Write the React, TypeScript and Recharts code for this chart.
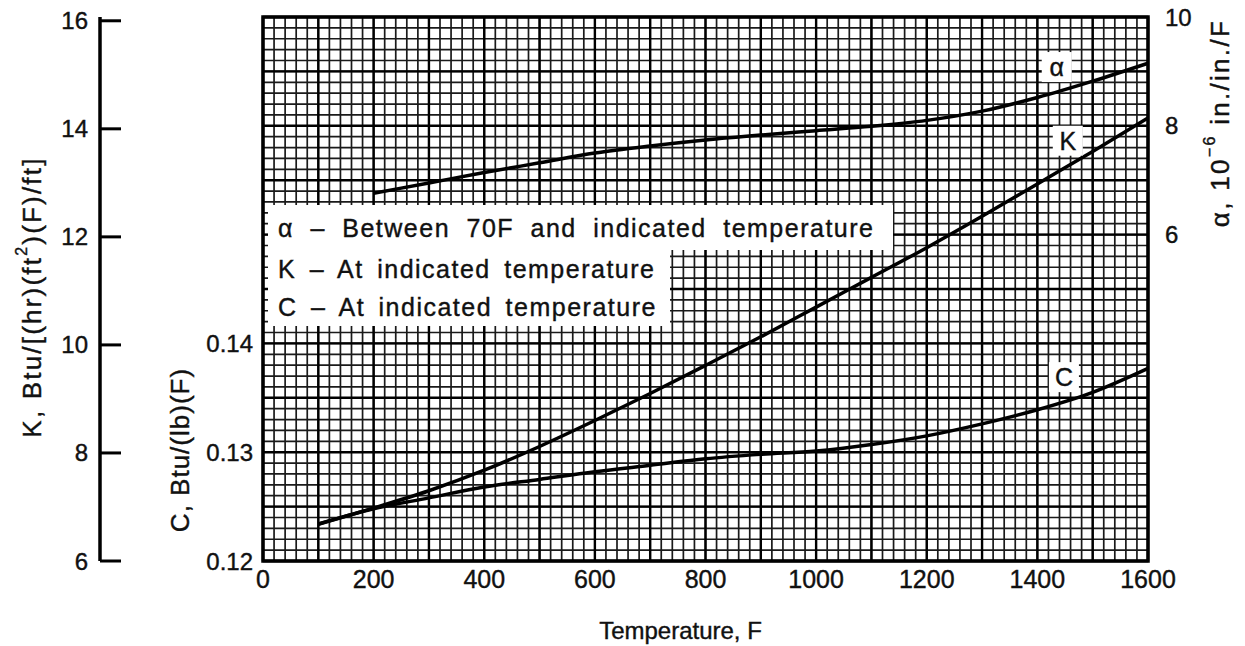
import React from "react";
import {
  LineChart,
  Line,
  XAxis,
  YAxis,
  CartesianGrid,
  ReferenceArea,
  ReferenceDot,
  Label,
  Legend,
} from "recharts";

// readings, every 100 F
const temps = [100, 200, 300, 400, 500, 600, 700, 800, 900, 1000, 1100, 1200, 1300, 1400, 1500, 1600];
const kValues = [6.68, 6.98, 7.3, 7.68, 8.12, 8.6, 9.1, 9.62, 10.15, 10.7, 11.25, 11.8, 12.38, 12.98, 13.58, 14.2];
const cValues = [0.1234, 0.1248, 0.1258, 0.1268, 0.1275, 0.1282, 0.1288, 0.1294, 0.1298, 0.1301, 0.1307, 0.1315, 0.1326, 0.1339, 0.1355, 0.1377];
const alphaTemps = [200, 300, 400, 500, 600, 700, 800, 900, 1000, 1100, 1200, 1300, 1400, 1500, 1600];
const alphaValues = [6.76, 6.95, 7.14, 7.32, 7.5, 7.63, 7.74, 7.83, 7.91, 7.99, 8.1, 8.27, 8.52, 8.82, 9.15];

const tempTicks = [0, 200, 400, 600, 800, 1000, 1200, 1400, 1600];
const kTicks = [6, 8, 10, 12, 14, 16];
const cTicks = [0.12, 0.13, 0.14];
const alphaTicks = [6, 8, 10];

// graph paper rulings
const minorTemps = Array.from({ length: 81 }, (_, i) => i * 20);
const majorTemps = Array.from({ length: 17 }, (_, i) => i * 100);
const minorC = Array.from({ length: 51 }, (_, i) => (120 + i) / 1000);
const majorC = Array.from({ length: 11 }, (_, i) => (120 + i * 5) / 1000);

const legendRows = [
  { sym: "α", text: "Between 70F and indicated temperature" },
  { sym: "K", text: "At indicated temperature" },
  { sym: "C", text: "At indicated temperature" },
];

const rows = temps.map((t, i) => {
  const ai = alphaTemps.indexOf(t);
  return { t, k: kValues[i], c: cValues[i], a: ai >= 0 ? alphaValues[ai] : null };
});

const INK = "#111";
const inkText = { fill: INK, stroke: INK, strokeWidth: 0.4 };

const KTick = ({ x, y, payload }: any) => (
  <g>
    <line x1={x + 12} x2={x + 33} y1={y} y2={y} stroke="#000" strokeWidth={3} />
    <text x={x} y={y} textAnchor="end" dominantBaseline="central" fontSize={24} {...inkText}>
      {payload.value}
    </text>
  </g>
);

const CurveTag = ({ viewBox, text }: any) => {
  const { x, y } = viewBox;
  return (
    <g>
      <rect x={x - 15} y={y - 15} width={30} height={30} fill="#fff" />
      <text x={x} y={y} textAnchor="middle" dominantBaseline="central" fontSize={25} {...inkText}>
        {text}
      </text>
    </g>
  );
};

const LegendBox = () => (
  <div style={{ fontSize: 25, color: INK, letterSpacing: 1.5, WebkitTextStroke: "0.4px #111" }}>
    {legendRows.map((r, i) => (
      <div
        key={r.sym}
        style={{
          background: "#fff",
          width: i === 0 ? 625 : 402,
          boxSizing: "border-box",
          padding: i === 0 ? "8px 0 7px 10px" : "4px 0 4px 10px",
          lineHeight: "30px",
          wordSpacing: i === 0 ? 8 : 5,
          whiteSpace: "nowrap",
        }}
      >
        {r.sym} – {r.text}
      </div>
    ))}
  </div>
);

const App = () => {
  return (
    <div
      style={{
        position: "absolute",
        left: 0,
        top: 0,
        width: 1245,
        height: 646,
        background: "#fff",
        fontFamily: '"Liberation Sans", Arial, sans-serif',
      }}
    >
      <LineChart width={1245} height={646} data={rows} margin={{ top: 17, right: 17, bottom: 25, left: 40 }}>
        <CartesianGrid
          yAxisId="c"
          horizontalValues={minorC}
          verticalValues={minorTemps}
          stroke="#1a1a1a"
          strokeWidth={1.7}
        />
        <CartesianGrid
          yAxisId="c"
          horizontalValues={majorC}
          verticalValues={majorTemps}
          stroke="#000"
          strokeWidth={2.4}
        />
        <XAxis
          dataKey="t"
          type="number"
          domain={[0, 1600]}
          ticks={tempTicks}
          interval={0}
          height={60}
          axisLine={false}
          tickLine={false}
          tickSize={0}
          tickMargin={9}
          tick={{ fontSize: 25, ...inkText }}
        >
          <Label
            content={({ viewBox }: any) => (
              <text
                x={viewBox.x + viewBox.width / 2 - 25}
                y={viewBox.y + 69}
                textAnchor="middle"
                dominantBaseline="central"
                fontSize={24}
                {...inkText}
              >
                Temperature, F
              </text>
            )}
          />
        </XAxis>
        <YAxis
          yAxisId="c"
          orientation="left"
          width={163}
          domain={[0.12, 0.17]}
          ticks={cTicks}
          interval={0}
          axisLine={false}
          tickLine={false}
          tickSize={0}
          tickMargin={10}
          tickFormatter={(v: number) => v.toFixed(2)}
          tick={{ fontSize: 24, ...inkText }}
        >
          <Label
            content={({ viewBox }: any) => {
              const cx = viewBox.x + 80;
              const cy = viewBox.y + 433;
              return (
                <text
                  x={cx}
                  y={cy}
                  transform={`rotate(-90 ${cx} ${cy})`}
                  textAnchor="middle"
                  dominantBaseline="central"
                  fontSize={26}
                  letterSpacing={1}
                  {...inkText}
                >
                  C,  Btu/(lb)(F)
                </text>
              );
            }}
          />
        </YAxis>
        <YAxis
          yAxisId="k"
          orientation="left"
          width={60}
          domain={[6, 16.07]}
          ticks={kTicks}
          interval={0}
          axisLine={{ stroke: "#000", strokeWidth: 3.5 }}
          tickLine={false}
          tickSize={0}
          tickMargin={12}
          tick={<KTick />}
        >
          <Label
            content={({ viewBox }: any) => {
              const cx = viewBox.x - 8;
              const cy = viewBox.y + viewBox.height / 2 + 8;
              return (
                <text
                  x={cx}
                  y={cy}
                  transform={`rotate(-90 ${cx} ${cy})`}
                  textAnchor="middle"
                  dominantBaseline="central"
                  fontSize={26}
                  letterSpacing={2.2}
                  {...inkText}
                >
                  K, Btu/[(hr)(ft
                  <tspan dy={-11} fontSize={16}>2</tspan>
                  <tspan dy={11}>)(F)/ft]</tspan>
                </text>
              );
            }}
          />
        </YAxis>
        <YAxis
          yAxisId="a"
          orientation="right"
          width={80}
          domain={[0, 10]}
          ticks={alphaTicks}
          interval={0}
          axisLine={false}
          tickLine={false}
          tickSize={0}
          tickMargin={17}
          tick={{ fontSize: 24, ...inkText }}
        >
          <Label
            content={({ viewBox }: any) => {
              const cx = viewBox.x + 72;
              const cy = viewBox.y + 106;
              return (
                <text
                  x={cx}
                  y={cy}
                  transform={`rotate(-90 ${cx} ${cy})`}
                  textAnchor="middle"
                  dominantBaseline="central"
                  fontSize={26}
                  letterSpacing={2.3}
                  {...inkText}
                >
                  α, 10
                  <tspan dy={-11} fontSize={16}>−6</tspan>
                  <tspan dy={11}> in./in./F</tspan>
                </text>
              );
            }}
          />
        </YAxis>

        <ReferenceArea
          yAxisId="c"
          x1={0}
          x2={1600}
          y1={0.12}
          y2={0.17}
          fill="none"
          stroke="#000"
          strokeWidth={3.5}
        />

        <Line yAxisId="a" dataKey="a" type="monotone" stroke="#000" strokeWidth={3.5} dot={false} legendType="none" isAnimationActive={false} />
        <Line yAxisId="k" dataKey="k" type="monotone" stroke="#000" strokeWidth={3.5} dot={false} legendType="none" isAnimationActive={false} />
        <Line yAxisId="c" dataKey="c" type="monotone" stroke="#000" strokeWidth={3.5} dot={false} legendType="none" isAnimationActive={false} />

        <ReferenceDot yAxisId="a" x={1435} y={9.08} r={0} fill="none" stroke="none">
          <Label content={<CurveTag text="α" />} />
        </ReferenceDot>
        <ReferenceDot yAxisId="k" x={1455} y={13.78} r={0} fill="none" stroke="none">
          <Label content={<CurveTag text="K" />} />
        </ReferenceDot>
        <ReferenceDot yAxisId="c" x={1448} y={0.1369} r={0} fill="none" stroke="none">
          <Label content={<CurveTag text="C" />} />
        </ReferenceDot>

        <Legend
          layout="horizontal"
          verticalAlign="middle"
          align="center"
          content={<LegendBox />}
          wrapperStyle={{ left: 268, top: 205, width: 630, height: 125 }}
        />
      </LineChart>
    </div>
  );
};

export default App;
